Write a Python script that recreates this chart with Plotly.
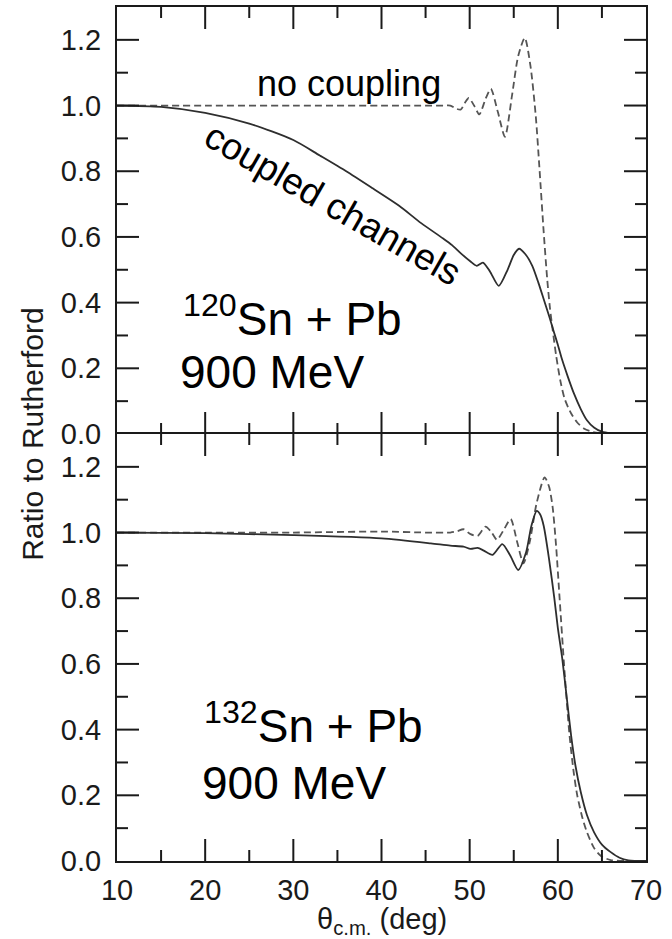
import plotly.graph_objects as go

# Elastic cross section relative to Rutherford, 900 MeV Sn + Pb
# Upper panel: 120Sn + Pb
top_nc_theta = [10, 20, 30, 40, 45, 47, 47.8, 48.5, 49.0, 49.5, 49.9, 50.5, 51.1, 51.8,
                52.4, 53.2, 54.0, 54.8, 55.5, 56.25, 56.9, 57.5, 57.9, 58.4, 58.8, 59.1,
                59.4, 59.8, 60.3, 60.8, 61.5, 62.2, 63.0, 64.0, 65.0, 66.0, 70]
top_nc_ratio = [1.0, 1.0, 1.0, 1.0, 1.0, 1.0, 1.0, 0.99, 0.988, 1.01, 1.023, 1.0, 0.973, 1.02,
                1.051, 0.98, 0.905, 1.03, 1.15, 1.206, 1.12, 0.967, 0.815, 0.613, 0.47, 0.385,
                0.32, 0.24, 0.16, 0.105, 0.063, 0.035, 0.016, 0.006, 0.002, 0.0005, 0.0]

top_cc_theta = [10, 15, 20, 25, 30, 33, 36, 39, 42, 44.5, 47, 48, 49, 50.1, 50.8, 51.5,
                52.3, 53.3, 54.3, 55.0, 55.6, 56.3, 57.1, 57.8, 58.4, 59.0, 59.5, 60.0,
                60.5, 61.1, 61.8, 62.6, 63.3, 64.1, 65.0, 66.0, 67.0, 70]
top_cc_ratio = [1.0, 0.996, 0.978, 0.945, 0.895, 0.848, 0.80, 0.748, 0.695, 0.642, 0.595,
                0.575, 0.55, 0.525, 0.512, 0.522, 0.495, 0.451, 0.5, 0.545, 0.564, 0.548,
                0.512, 0.46, 0.41, 0.36, 0.315, 0.272, 0.225, 0.177, 0.125, 0.076, 0.042,
                0.02, 0.007, 0.002, 0.0005, 0.0]

# Lower panel: 132Sn + Pb
bot_nc_theta = [10, 20, 30, 40, 45, 47.8, 48.6, 49.3, 50.1, 50.9, 51.8, 52.5, 53.1, 53.9,
                54.65, 55.4, 56.1, 56.8, 57.6, 58.5, 59.0, 59.4, 59.8, 60.2, 60.7, 61.3,
                61.8, 62.2, 62.8, 63.3, 64.1, 64.9, 66.0, 70]
bot_nc_ratio = [1.0, 1.0, 1.0, 1.003, 1.0, 1.0, 1.004, 1.01, 0.995, 0.99, 1.018, 1.0, 0.978,
                1.01, 1.041, 0.97, 0.906, 0.97, 1.09, 1.168, 1.14, 1.08, 0.96, 0.8, 0.6,
                0.39, 0.27, 0.2, 0.13, 0.088, 0.04, 0.015, 0.003, 0.0]

bot_cc_theta = [10, 20, 30, 40, 45.6, 47.8, 49.3, 50.1, 50.9, 51.6, 52.6, 53.7, 54.6, 55.5,
                56.4, 57.0, 57.6, 58.0, 58.4, 59.0, 59.6, 60.0, 60.5, 61.0, 61.5, 62.0,
                62.6, 63.3, 64.1, 65.0, 66.0, 67.0, 68.0, 70]
bot_cc_ratio = [1.0, 0.998, 0.992, 0.982, 0.967, 0.96, 0.957, 0.95, 0.953, 0.945, 0.932,
                0.965, 0.93, 0.886, 0.94, 1.02, 1.066, 1.055, 1.02, 0.92, 0.80, 0.71, 0.617,
                0.5, 0.383, 0.29, 0.21, 0.14, 0.088, 0.05, 0.027, 0.01, 0.002, 0.0]

# Axis ranges and tick positions (every 5 deg / 0.1; majors every 10 deg / 0.2)
theta_range = [10, 70]
ratio_range = [0, 1.3]
theta_ticks = [15, 20, 25, 30, 35, 40, 45, 50, 55, 60, 65]
ratio_ticks = [0.1, 0.2, 0.3, 0.4, 0.5, 0.6, 0.7, 0.8, 0.9, 1.0, 1.1, 1.2]

FONT = "Liberation Sans, Arial, Helvetica, sans-serif"
INK = "#1a1a1a"

W, H = 672, 939
ML, MR, MT, MB = 117, 26, 7, 78
panel_w = W - ML - MR
panel_h = (H - MT - MB) / 2
MAJOR_LEN, MINOR_LEN = 22, 11  # pixels


def px_to_theta(px):
    return px * (theta_range[1] - theta_range[0]) / panel_w


def px_to_ratio(px):
    return px * (ratio_range[1] - ratio_range[0]) / panel_h


def tick_segments():
    """Inward tick marks on all four edges of a panel, as one broken polyline."""
    xs, ys = [], []
    for t in theta_ticks:
        L = px_to_ratio(MAJOR_LEN if t % 10 == 0 else MINOR_LEN)
        xs += [t, t, None, t, t, None]
        ys += [ratio_range[0], ratio_range[0] + L, None,
               ratio_range[1], ratio_range[1] - L, None]
    for v in ratio_ticks:
        L = px_to_theta(MAJOR_LEN if round(v * 10) % 2 == 0 else MINOR_LEN)
        xs += [theta_range[0], theta_range[0] + L, None,
               theta_range[1], theta_range[1] - L, None]
        ys += [v, v, None, v, v, None]
    return xs, ys


solid = dict(color="#2e2e2e", width=1.8, shape="spline", smoothing=0.7)
dashed = dict(color="#555555", width=1.8, dash="7px,4px", shape="spline", smoothing=0.7)

fig = go.Figure()
fig.add_trace(go.Scatter(x=top_nc_theta, y=top_nc_ratio, mode="lines", line=dashed,
                         xaxis="x", yaxis="y", showlegend=False))
fig.add_trace(go.Scatter(x=top_cc_theta, y=top_cc_ratio, mode="lines", line=solid,
                         xaxis="x", yaxis="y", showlegend=False))
fig.add_trace(go.Scatter(x=bot_nc_theta, y=bot_nc_ratio, mode="lines", line=dashed,
                         xaxis="x2", yaxis="y2", showlegend=False))
fig.add_trace(go.Scatter(x=bot_cc_theta, y=bot_cc_ratio, mode="lines", line=solid,
                         xaxis="x2", yaxis="y2", showlegend=False))

tx, ty = tick_segments()
for xa, ya in (("x", "y"), ("x2", "y2")):
    fig.add_trace(go.Scatter(x=tx, y=ty, mode="lines", xaxis=xa, yaxis=ya,
                             line=dict(color=INK, width=2), hoverinfo="skip",
                             showlegend=False, connectgaps=False))

tickfont = dict(family=FONT, size=29, color=INK)
frame = dict(showline=True, linecolor=INK, linewidth=2, showgrid=False, zeroline=False,
             ticks="", tickfont=tickfont)

fig.update_layout(
    template="none",
    width=W, height=H,
    margin=dict(l=ML, r=MR, t=MT, b=MB),
    paper_bgcolor="white", plot_bgcolor="white",
    font=dict(family=FONT, color=INK),
    # upper panel: its x line sits on top; the shared edge comes from the lower panel
    xaxis=dict(domain=[0, 1], anchor="y", side="top", mirror=False, showticklabels=False,
               range=theta_range, **frame),
    yaxis=dict(domain=[0.5, 1], anchor="x", mirror=True, range=ratio_range,
               tickmode="linear", tick0=0, dtick=0.2, tickformat=".1f",
               ticklabelstandoff=8, **frame),
    xaxis2=dict(domain=[0, 1], anchor="y2", mirror=True, showticklabels=True,
                range=theta_range, tickmode="linear", tick0=10, dtick=10,
                ticklabelstandoff=2, **frame),
    yaxis2=dict(domain=[0, 0.5], anchor="x2", mirror=True, range=ratio_range,
                tickmode="linear", tick0=0, dtick=0.2, tickformat=".1f",
                ticklabelstandoff=8, **frame),
)

big = dict(family=FONT, size=46, color="black")
mid = dict(family=FONT, size=36, color="black")

annotations = [
    dict(text="no coupling", x=36.3, y=1.067, xref="x", yref="y", showarrow=False,
         font=mid, xanchor="center", yanchor="middle"),
    dict(text="coupled channels", x=34.55, y=0.70, xref="x", yref="y", showarrow=False,
         font=dict(family=FONT, size=37, color="black"), textangle=29.8,
         xanchor="center", yanchor="middle"),
    dict(text="<sup>120</sup>Sn + Pb", x=17.3, y=0.36, xref="x", yref="y", showarrow=False,
         font=big, xanchor="left", yanchor="middle"),
    dict(text="900 MeV", x=16.95, y=0.19, xref="x", yref="y", showarrow=False,
         font=big, xanchor="left", yanchor="middle"),
    dict(text="<sup>132</sup>Sn + Pb", x=19.6, y=0.42, xref="x2", yref="y2", showarrow=False,
         font=big, xanchor="left", yanchor="middle"),
    dict(text="900 MeV", x=19.4, y=0.238, xref="x2", yref="y2", showarrow=False,
         font=big, xanchor="left", yanchor="middle"),
    dict(text="Ratio to Rutherford", x=-0.161, y=0.5, xref="paper", yref="paper",
         showarrow=False, textangle=-90, font=dict(family=FONT, size=30, color=INK),
         xanchor="center", yanchor="middle"),
    dict(text="θ<sub>c.m.</sub> (deg)", x=0.5, y=-0.070, xref="paper", yref="paper",
         showarrow=False, font=dict(family=FONT, size=29, color=INK),
         xanchor="center", yanchor="middle"),
]
fig.update_layout(annotations=annotations)

fig.write_html("out.html")
